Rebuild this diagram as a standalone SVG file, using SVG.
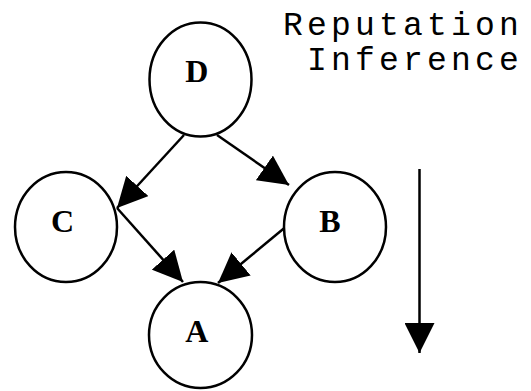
<svg xmlns="http://www.w3.org/2000/svg" width="531" height="391" viewBox="0 0 531 391">
  <style>
    .node ellipse { fill: #fff; stroke: #000; stroke-width: 2.5; }
    .node text { font-family: "Liberation Serif", "Times New Roman", serif; font-weight: bold; font-size: 32px; fill: #000; text-anchor: middle; }
    .edge { stroke: #000; stroke-width: 2.5; fill: none; marker-end: url(#head); }
    .caption { font-family: "Liberation Mono", "Courier New", monospace; font-size: 33px; letter-spacing: 4.2px; fill: #000; }
  </style>
  <defs>
    <marker id="head" viewBox="0 0 30 30" refX="30" refY="15" markerWidth="30" markerHeight="30" markerUnits="userSpaceOnUse" orient="auto">
      <path d="M0,0 L30,15 L0,30 Z" fill="#000"/>
    </marker>
  </defs>
  <rect width="531" height="391" fill="#fff"/>

  <g id="connectors">
    <line class="edge" x1="184" y1="135" x2="117" y2="208"/>
    <line class="edge" x1="217" y1="135" x2="289" y2="185"/>
    <line class="edge" x1="117" y1="208" x2="183" y2="282"/>
    <line class="edge" x1="288" y1="225" x2="218" y2="283"/>
    <line class="edge" x1="419.5" y1="169" x2="419.5" y2="353"/>
  </g>

  <g id="node-D" class="node">
    <ellipse cx="200.5" cy="79.5" rx="51" ry="57"/>
    <text x="196.7" y="81.7">D</text>
  </g>
  <g id="node-C" class="node">
    <ellipse cx="66" cy="227" rx="51" ry="55"/>
    <text x="62.5" y="231.7">C</text>
  </g>
  <g id="node-B" class="node">
    <ellipse cx="335" cy="227" rx="51" ry="55"/>
    <text x="330" y="231.7">B</text>
  </g>
  <g id="node-A" class="node">
    <ellipse cx="200.5" cy="335" rx="51.5" ry="53"/>
    <text x="196.7" y="342">A</text>
  </g>

  <g id="caption">
    <text class="caption" x="283" y="35">Reputation</text>
    <text class="caption" x="307" y="70">Inference</text>
  </g>
</svg>
